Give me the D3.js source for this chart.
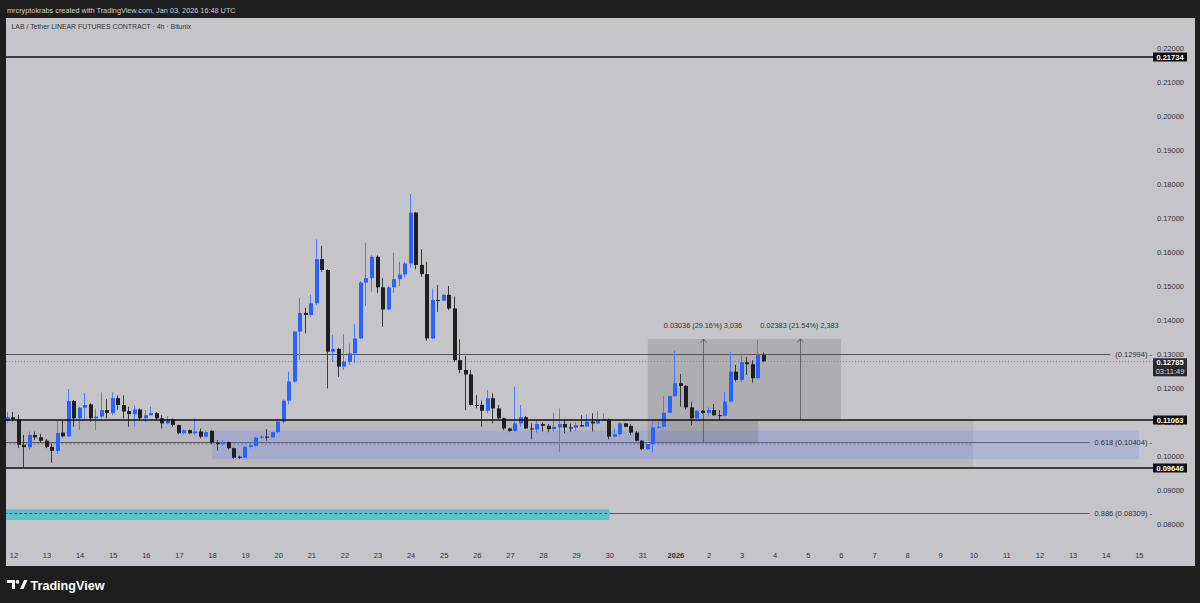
<!DOCTYPE html>
<html>
<head>
<meta charset="utf-8">
<script src="https://cdn.jsdelivr.net/npm/d3@7"></script>
<style>
body{margin:0;background:#1e1e1e;overflow:hidden}
svg{display:block;font-family:"Liberation Sans",Arial,sans-serif}
</style>
</head>
<body>
<script>
// LAB/USDT 4h candles, first bar Dec 11 20:00 UTC
var firstBar=Date.UTC(2025,11,11,20)
var barMs=4*3600*1000
var opens=[0.1103,0.1114,0.1108,0.1033,0.1026,0.1062,0.1055,0.1045,0.1027,0.1015,
0.1069,0.1058,0.1162,0.1111,0.1142,0.1152,0.1111,0.1116,0.1135,0.1126,
0.1170,0.1150,0.1132,0.1123,0.1137,0.1111,0.1120,0.1126,0.1111,0.1096,
0.1108,0.1091,0.1067,0.1076,0.1067,0.1072,0.1057,0.1074,0.1039,0.1035,
0.1041,0.1023,0.0998,0.0995,0.1027,0.1030,0.1054,0.1057,0.1055,0.1070,
0.1101,0.1163,0.1219,0.1366,0.1421,0.1415,0.1449,0.1579,0.1547,0.1307,
0.1315,0.1263,0.1277,0.1302,0.1346,0.1510,0.1523,0.1586,0.1496,0.1431,
0.1496,0.1520,0.1534,0.1566,0.1716,0.1562,0.1535,0.1346,0.1459,0.1457,
0.1474,0.1434,0.1282,0.1253,0.1240,0.1150,0.1150,0.1133,0.1170,0.1140,
0.1111,0.1081,0.1074,0.1096,0.1114,0.1081,0.1078,0.1094,0.1089,0.1079,
0.1084,0.1094,0.1084,0.1083,0.1091,0.1087,0.1101,0.1096,0.1104,0.1108,
0.1057,0.1064,0.1096,0.1088,0.1069,0.1045,0.1020,0.1035,0.1084,0.1086,
0.1127,0.1176,0.1214,0.1206,0.1143,0.1111,0.1133,0.1127,0.1135,0.1120,
0.1118,0.1160,0.1248,0.1224,0.1276,0.1270,0.1229,0.1297]
var highs=[0.1130,0.1129,0.1121,0.1062,0.1072,0.1072,0.1065,0.1050,0.1037,0.1106,
0.1104,0.1197,0.1165,0.1145,0.1185,0.1155,0.1140,0.1187,0.1168,0.1187,
0.1178,0.1178,0.1145,0.1149,0.1140,0.1135,0.1145,0.1129,0.1120,0.1117,
0.1110,0.1092,0.1078,0.1078,0.1111,0.1081,0.1076,0.1076,0.1047,0.1047,
0.1043,0.1025,0.1001,0.1029,0.1037,0.1057,0.1062,0.1079,0.1071,0.1106,
0.1167,0.1248,0.1368,0.1464,0.1436,0.1474,0.1637,0.1618,0.1549,0.1356,
0.1318,0.1358,0.1331,0.1388,0.1515,0.1627,0.1591,0.1590,0.1523,0.1500,
0.1598,0.1571,0.1571,0.1771,0.1718,0.1608,0.1571,0.1493,0.1503,0.1476,
0.1500,0.1469,0.1343,0.1294,0.1253,0.1179,0.1163,0.1194,0.1184,0.1150,
0.1113,0.1083,0.1204,0.1150,0.1118,0.1096,0.1106,0.1099,0.1094,0.1127,
0.1140,0.1108,0.1096,0.1099,0.1120,0.1122,0.1126,0.1132,0.1126,0.1110,
0.1081,0.1099,0.1097,0.1094,0.1074,0.1047,0.1036,0.1101,0.1101,0.1176,
0.1178,0.1310,0.1241,0.1208,0.1160,0.1135,0.1135,0.1143,0.1153,0.1135,
0.1189,0.1307,0.1268,0.1302,0.1292,0.1282,0.1341,0.1304]
var lows=[0.1096,0.1101,0.1023,0.0967,0.1018,0.1047,0.1038,0.1023,0.0980,0.1006,
0.1055,0.1055,0.1086,0.1077,0.1108,0.1101,0.1076,0.1111,0.1111,0.1120,
0.1135,0.1111,0.1086,0.1086,0.1106,0.1098,0.1118,0.1106,0.1081,0.1093,
0.1086,0.1064,0.1064,0.1064,0.1062,0.1052,0.1054,0.1035,0.1016,0.1029,
0.1020,0.0992,0.0991,0.0992,0.1022,0.1028,0.1050,0.1045,0.1054,0.1067,
0.1096,0.1152,0.1215,0.1282,0.1361,0.1410,0.1444,0.1542,0.1199,0.1277,
0.1233,0.1253,0.1268,0.1273,0.1344,0.1441,0.1483,0.1480,0.1380,0.1428,
0.1480,0.1500,0.1526,0.1555,0.1549,0.1527,0.1339,0.1344,0.1424,0.1455,
0.1429,0.1277,0.1243,0.1135,0.1148,0.1140,0.1086,0.1126,0.1096,0.1108,
0.1076,0.1070,0.1072,0.1086,0.1079,0.1049,0.1069,0.1072,0.1070,0.1072,
0.1011,0.1067,0.1071,0.1074,0.1085,0.1084,0.1072,0.1094,0.1103,0.1049,
0.1055,0.1057,0.1084,0.1062,0.1043,0.1018,0.1018,0.1010,0.1080,0.1083,
0.1126,0.1173,0.1145,0.1137,0.1091,0.1109,0.1124,0.1116,0.1118,0.1104,
0.1116,0.1157,0.1219,0.1219,0.1238,0.1216,0.1226,0.1276]
var closes=[0.1114,0.1108,0.1033,0.1026,0.1062,0.1055,0.1045,0.1027,0.1015,0.1067,
0.1058,0.1162,0.1111,0.1142,0.1150,0.1111,0.1116,0.1135,0.1126,0.1170,
0.1150,0.1131,0.1123,0.1137,0.1111,0.1120,0.1126,0.1111,0.1096,0.1108,
0.1091,0.1067,0.1076,0.1067,0.1072,0.1057,0.1070,0.1039,0.1035,0.1041,
0.1023,0.0995,0.0995,0.1027,0.1032,0.1054,0.1057,0.1055,0.1070,0.1101,
0.1163,0.1219,0.1366,0.1421,0.1415,0.1449,0.1579,0.1547,0.1307,0.1315,
0.1263,0.1277,0.1302,0.1346,0.1510,0.1523,0.1586,0.1496,0.1431,0.1496,
0.1520,0.1534,0.1566,0.1716,0.1562,0.1535,0.1346,0.1459,0.1457,0.1474,
0.1434,0.1282,0.1253,0.1240,0.1150,0.1147,0.1133,0.1170,0.1140,0.1111,
0.1081,0.1074,0.1096,0.1114,0.1081,0.1078,0.1094,0.1089,0.1079,0.1086,
0.1094,0.1084,0.1083,0.1091,0.1087,0.1101,0.1096,0.1106,0.1108,0.1057,
0.1064,0.1096,0.1086,0.1069,0.1045,0.1020,0.1035,0.1084,0.1086,0.1127,
0.1176,0.1214,0.1206,0.1143,0.1111,0.1133,0.1127,0.1135,0.1120,0.1118,
0.1160,0.1248,0.1224,0.1276,0.1270,0.1229,0.1297,0.12785]

var dayLabels=["12","13","14","15","16","17","18","19","20","21","22","23","24","25","26","27","28","29","30","31",
"2026","2","3","4","5","6","7","8","9","10","11","12","13","14","15"]
var priceTicks=[0.08,0.09,0.10,0.11,0.12,0.13,0.14,0.15,0.16,0.17,0.18,0.19,0.20,0.21,0.22]

// horizontal levels drawn as black lines with a tag on the price scale
var blackLevels=[0.21734,0.11063,0.09646]
var fibLevels=[0.12994,0.10404,0.08309]
var fibLabels=["(0.12994)","0.618 (0.10404)","0.886 (0.08309)"]
var lastPrice=0.12785
var countdown="03:11:49"

// zones: [from, to, top price, bottom price]
var grayZone=[Date.UTC(2025,11,1),Date.UTC(2026,0,10),0.11063,0.09646]
var blueZone=[Date.UTC(2025,11,18),Date.UTC(2026,0,15),0.10744,0.09903]
var cyanZone=[Date.UTC(2025,11,1),Date.UTC(2025,11,30),0.08433,0.08118]
var measureFrom=[Date.UTC(2025,11,31,4),Date.UTC(2026,0,3,12)]
var measureTo=[Date.UTC(2026,0,3,12),Date.UTC(2026,0,6)]
var measureBase=[0.10404,0.11063]
var measureTop=[0.13440,0.13446]
var measureLabels=["0.03036 (29.16%) 3,036","0.02383 (21.54%) 2,383"]

var W=1200,H=603
var panel={x:6,y:18,w:1189,h:548}
var plotRight=1153

var svg=d3.select("body").append("svg").attr("width",W).attr("height",H)
svg.append("rect").attr("width",W).attr("height",H).attr("fill","#1e1e1e")
svg.append("rect").attr("x",panel.x).attr("y",panel.y).attr("width",panel.w).attr("height",panel.h).attr("fill","#c5c4c9")

var x=d3.scaleUtc().domain([Date.UTC(2025,11,12),Date.UTC(2026,0,15)]).range([13.4,13.4+34*33.1])
var y=d3.scaleLinear().domain([0.08,0.22]).range([524,48])

svg.append("clipPath").attr("id","plot").append("rect")
	.attr("x",panel.x).attr("y",panel.y).attr("width",plotRight-panel.x).attr("height",panel.h)
var g=svg.append("g").attr("clip-path","url(#plot)")
var linesG=g.append("g")

function zone(z,fill)
{
	g.append("rect")
		.attr("x",x(z[0])).attr("y",y(z[2]))
		.attr("width",x(z[1])-x(z[0])).attr("height",y(z[3])-y(z[2]))
		.attr("fill",fill)
}
zone(grayZone,"rgba(120,120,125,0.17)")
zone(blueZone,"rgba(110,130,245,0.25)")
zone(cyanZone,"#5fbfcb")

// middle dashed line of the gray rectangle
g.append("line").attr("x1",x(grayZone[0])).attr("x2",x(grayZone[1]))
	.attr("y1",y((grayZone[2]+grayZone[3])/2)).attr("y2",y((grayZone[2]+grayZone[3])/2))
	.attr("stroke","#777").attr("stroke-dasharray","2,2")

// measure boxes
for(var m=0;m<2;m++)
{
	var x0=x(measureFrom[m]),x1=x(measureTo[m]),mid=(x0+x1)/2
	g.append("rect").attr("x",x0).attr("y",y(measureTop[m]))
		.attr("width",x1-x0).attr("height",y(measureBase[m])-y(measureTop[m]))
		.attr("fill","rgba(90,90,95,0.22)")
	g.append("line").attr("x1",Math.round(mid)+0.5).attr("x2",Math.round(mid)+0.5)
		.attr("y1",y(measureBase[m])).attr("y2",y(measureTop[m]))
		.attr("stroke","#555").attr("stroke-width",0.8)
	g.append("path")
		.attr("d","M"+(Math.round(mid)-2.5)+","+(y(measureTop[m])+3.5)+"L"+(Math.round(mid)+0.5)+","+y(measureTop[m])+"L"+(Math.round(mid)+3.5)+","+(y(measureTop[m])+3.5))
		.attr("fill","none").attr("stroke","#555").attr("stroke-width",0.8)
	svg.append("text").attr("x",mid).attr("y",y(measureTop[m])-11)
		.attr("text-anchor","middle").attr("font-size","7.3px").attr("fill","#333")
		.text(measureLabels[m])
}

// cyan band dashed middle
g.append("line").attr("x1",x(cyanZone[0])).attr("x2",x(cyanZone[1]))
	.attr("y1",Math.round(y(fibLevels[2]))+0.5).attr("y2",Math.round(y(fibLevels[2]))+0.5)
	.attr("stroke","#2a5f66").attr("stroke-dasharray","3,2")

// fib and ray lines with labels
fibLevels.forEach(function(v,i)
{
	var t=svg.append("text").attr("x",plotRight-1).attr("y",y(v)).attr("dy","0.32em")
		.attr("text-anchor","end").attr("font-size","7.5px").attr("fill","#333")
		.text(fibLabels[i]+" -")
	var tw=t.node().getComputedTextLength()
	linesG.append("line").attr("x1",panel.x).attr("x2",plotRight-1-tw-5)
		.attr("y1",Math.round(y(v))+0.5).attr("y2",Math.round(y(v))+0.5)
		.attr("stroke","#55555a").attr("stroke-width",1)
})

// last price dotted line
g.append("line").attr("x1",panel.x).attr("x2",plotRight)
	.attr("y1",Math.round(y(lastPrice))+0.5).attr("y2",Math.round(y(lastPrice))+0.5)
	.attr("stroke","#888").attr("stroke-dasharray","1,2")

// candles
var bars=[]
for(var i=0;i<opens.length;i++)
	bars.push({t:firstBar+i*barMs,o:opens[i],h:highs[i],l:lows[i],c:closes[i]})

var cg=g.append("g")
cg.selectAll("line").data(bars).enter().append("line")
	.attr("x1",function(d){return Math.round(x(d.t))-0.5})
	.attr("x2",function(d){return Math.round(x(d.t))-0.5})
	.attr("y1",function(d){return y(d.h)})
	.attr("y2",function(d){return y(d.l)})
	.attr("stroke",function(d){return d.c>=d.o?"#4f7cff":"#3a3a3e"})
	.attr("stroke-width",1)
cg.selectAll("rect").data(bars).enter().append("rect")
	.attr("x",function(d){return Math.round(x(d.t))-2})
	.attr("width",4)
	.attr("y",function(d){return y(Math.max(d.o,d.c))})
	.attr("height",function(d){return Math.max(1,Math.abs(y(d.o)-y(d.c)))})
	.attr("fill",function(d){return d.c>=d.o?"#2962ff":"#1f1f22"})

// black levels
blackLevels.forEach(function(v)
{
	g.append("line").attr("x1",panel.x).attr("x2",plotRight)
		.attr("y1",Math.round(y(v))).attr("y2",Math.round(y(v)))
		.attr("stroke","#111").attr("stroke-width",1.5)
})

// price axis
var yAxis=d3.axisLeft(y).tickValues(priceTicks).tickSize(0).tickPadding(0).tickFormat(d3.format(".5f"))
var ya=svg.append("g").attr("transform","translate(1184,0)").call(yAxis)
ya.select(".domain").remove()
ya.selectAll("text").attr("font-size","7.5px").attr("fill","#333").attr("font-family","Liberation Sans, Arial, sans-serif")

function tag(v,txt,fill)
{
	svg.append("rect").attr("x",1153).attr("y",Math.round(y(v))-4.5).attr("width",34).attr("height",9).attr("fill",fill)
	svg.append("text").attr("x",1170).attr("y",Math.round(y(v))).attr("dy","0.34em")
		.attr("text-anchor","middle").attr("font-size","7.5px").attr("font-weight","bold").attr("fill","#fff").text(txt)
}
blackLevels.forEach(function(v){tag(v,d3.format(".5f")(v),"#111")})
svg.append("rect").attr("x",1153).attr("y",y(lastPrice)-3).attr("width",34).attr("height",18).attr("fill","#2b2b2e")
svg.append("text").attr("x",1170).attr("y",y(lastPrice)+4).attr("text-anchor","middle")
	.attr("font-size","7.5px").attr("font-weight","bold").attr("fill","#fff").text(d3.format(".5f")(lastPrice))
svg.append("text").attr("x",1170).attr("y",y(lastPrice)+13).attr("text-anchor","middle")
	.attr("font-size","7.5px").attr("fill","#ddd").text(countdown)

// time axis
var dayTicks=dayLabels.map(function(d,i){return new Date(Date.UTC(2025,11,12+i))})
var xAxis=d3.axisBottom(x).tickValues(dayTicks).tickSize(0).tickPadding(0)
	.tickFormat(function(d,i){return dayLabels[i]})
var xa=svg.append("g").attr("transform","translate(0,553)").call(xAxis)
xa.select(".domain").remove()
xa.selectAll("text").attr("font-size","7.5px").attr("fill","#333").attr("font-family","Liberation Sans, Arial, sans-serif")
	.attr("font-weight",function(d,i){return dayLabels[i]=="2026"?"bold":"normal"})

// header and title
svg.append("text").attr("x",7).attr("y",12.5).attr("font-size","7.3px").attr("fill","#cfcfcf")
	.text("mrcryptokrabs created with TradingView.com, Jan 03, 2026 16:48 UTC")
svg.append("text").attr("x",11.5).attr("y",28.5).attr("font-size","6.9px").attr("fill","#333")
	.text("LAB / Tether LINEAR FUTURES CONTRACT \u00b7 4h \u00b7 Bitunix")

// TradingView logo
var logo=svg.append("g").attr("fill","#fff")
logo.append("path").attr("d","M7,580H15V589H12V583H7Z")
logo.append("circle").attr("cx",17.5).attr("cy",581.8).attr("r",1.9)
logo.append("path").attr("d","M20,589L24,580H27.5L23.5,589Z")
svg.append("text").attr("x",30.5).attr("y",589.5).attr("font-size","12.6px").attr("font-weight","600").attr("fill","#fff")
	.text("TradingView")
</script>
</body>
</html>
